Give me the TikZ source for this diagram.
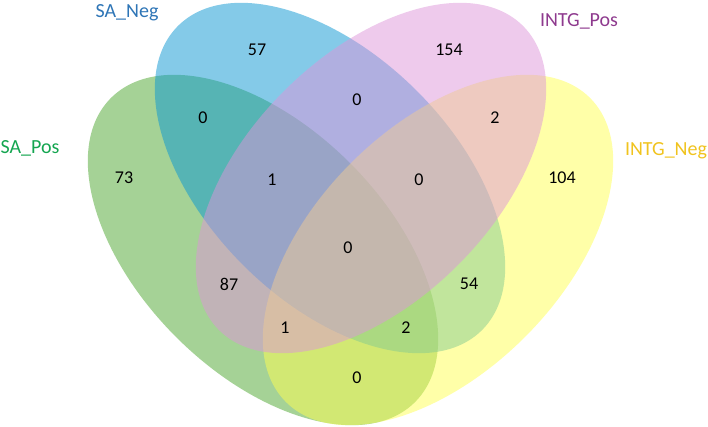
\documentclass[tikz,border=0pt]{standalone}
\usepackage{fontspec}
\setmainfont{Carlito}
\definecolor{gA}{RGB}{75,165,45}
\definecolor{bA}{RGB}{10,150,210}
\definecolor{pA}{RGB}{221,149,217}
\definecolor{yA}{RGB}{255,255,81}
\definecolor{gT}{RGB}{20,165,80}
\definecolor{bT}{RGB}{46,117,182}
\definecolor{pT}{RGB}{142,58,142}
\definecolor{yT}{RGB}{240,195,30}
\tikzset{
  setfill/.style={fill=#1, fill opacity=0.5, draw=none},
  num/.style={font=\fontsize{18}{20}\selectfont, text=black, inner sep=0pt},
  setlabel/.style={font=\fontsize{20}{22}\selectfont, text=#1, inner sep=0pt}
}
\begin{document}
\begin{tikzpicture}[x=1pt,y=-1pt]
\useasboundingbox (0,0) rectangle (708,427);
% ellipses
\coordinate (cg) at (263,250);
\coordinate (cb) at (330,178);
\coordinate (cp) at (371,178);
\coordinate (cy) at (438,250);
\fill[setfill=gA, rotate around={-45:(cg)}] (cg) ellipse [x radius=215pt, y radius=123pt];
\fill[setfill=bA, rotate around={-45:(cb)}] (cb) ellipse [x radius=215pt, y radius=123pt];
\fill[setfill=yA, rotate around={45:(cy)}] (cy) ellipse [x radius=215pt, y radius=123pt];
\fill[setfill=pA, rotate around={45:(cp)}] (cp) ellipse [x radius=215pt, y radius=123pt];
% labels
\node[setlabel=bT] (lb) at (127,13) {SA\_Neg};
\node[setlabel=pT] (lp) at (579,21) {INTG\_Pos};
\node[setlabel=gT] (lg) at (30,148) {SA\_Pos};
\node[setlabel=yT] (ly) at (666,151) {INTG\_Neg};
% numbers
\node[num] (n1) at (257,50) {57};
\node[num] (n2) at (449,50) {154};
\node[num] (n3) at (203,118) {0};
\node[num] (n4) at (357,100) {0};
\node[num] (n5) at (495,118) {2};
\node[num] (n6) at (124,178) {73};
\node[num] (n7) at (272,180) {1};
\node[num] (n8) at (419,180) {0};
\node[num] (n9) at (562,178) {104};
\node[num] (n10) at (348,248) {0};
\node[num] (n11) at (229,284) {87};
\node[num] (n12) at (469,284) {54};
\node[num] (n13) at (285,328) {1};
\node[num] (n14) at (406,328) {2};
\node[num] (n15) at (357,378) {0};
\end{tikzpicture}
\end{document}
